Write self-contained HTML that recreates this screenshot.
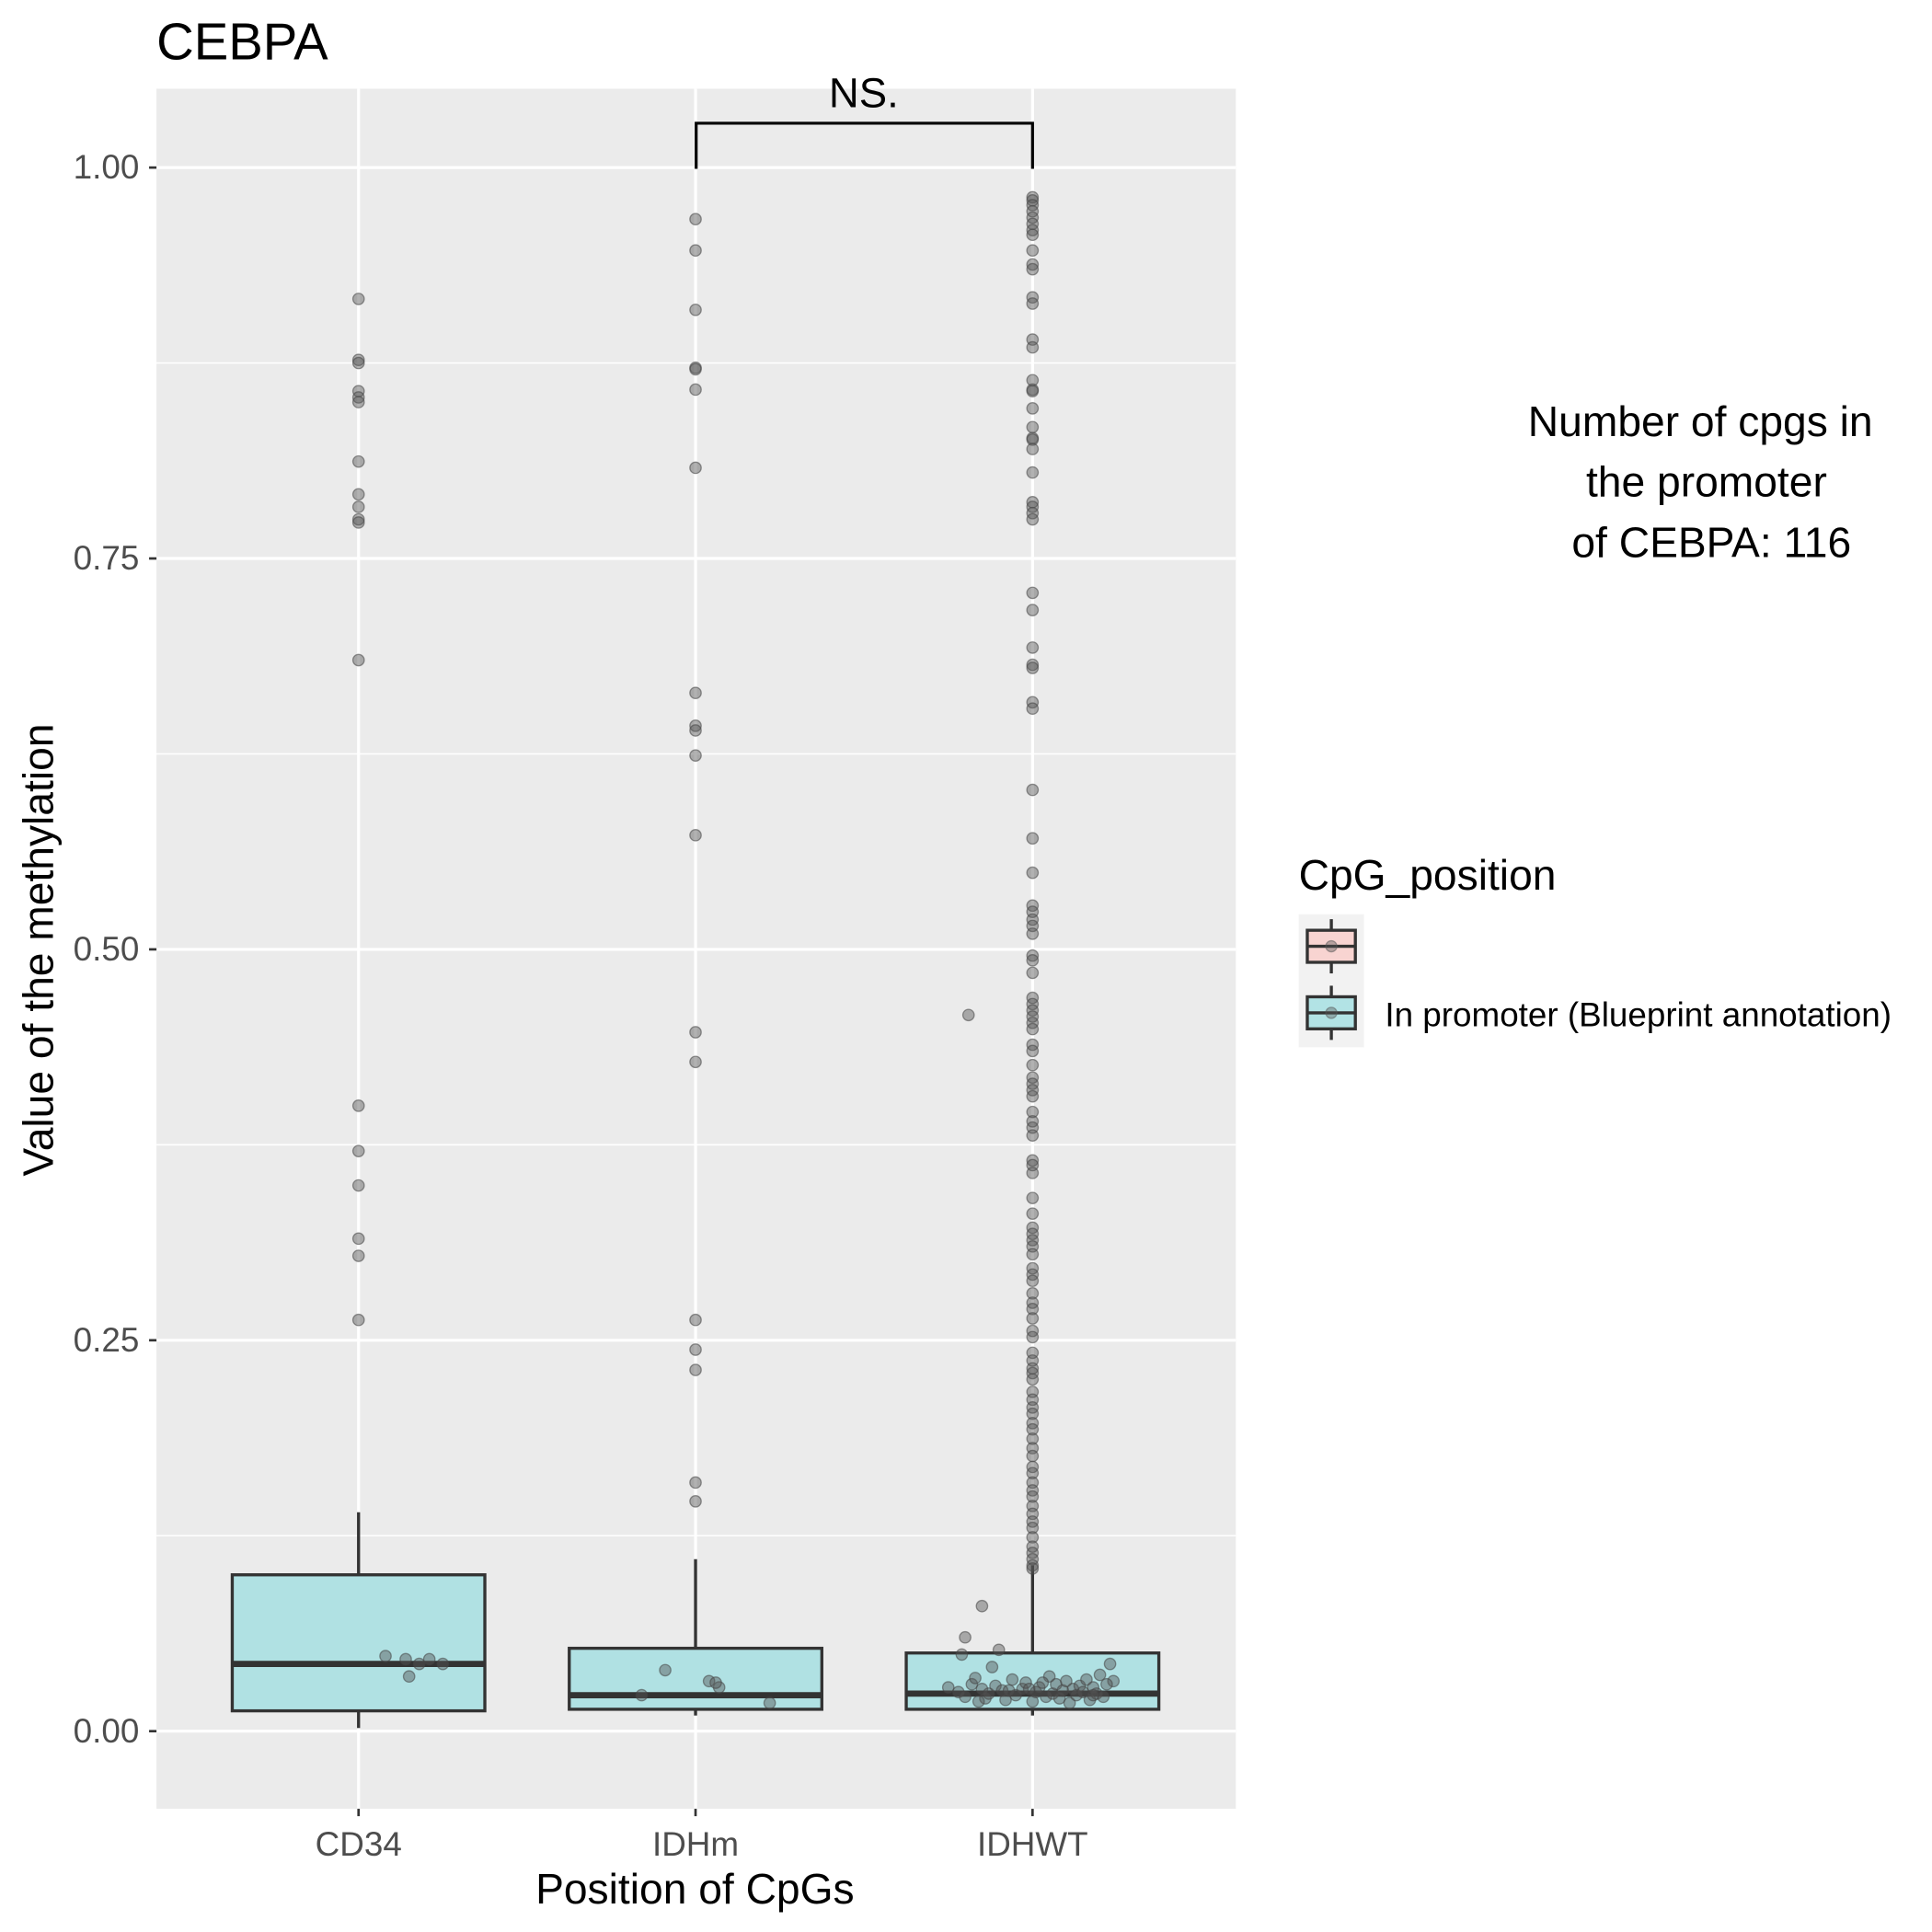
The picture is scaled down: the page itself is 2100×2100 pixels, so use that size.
<!DOCTYPE html>
<html><head><meta charset="utf-8"><style>
html,body{margin:0;padding:0;background:#fff;}
svg{display:block;font-family:"Liberation Sans",Arial,sans-serif;}
</style></head><body>
<svg id="chart" width="2100" height="2100" viewBox="0 0 1568 1568" xmlns="http://www.w3.org/2000/svg">
<rect width="1568" height="1568" fill="#fff"/>
<text x="127" y="48" font-size="42" fill="#000">CEBPA</text>
<rect x="127" y="72" width="876" height="1396" fill="#ebebeb"/>
<g id="grid"></g>
<g id="boxes"></g>
<g id="points"></g>
<g id="axes"></g>
<g>
<path d="M565,137 V100 H838 V137" fill="none" stroke="#000" stroke-width="2.4"/>
<text x="701" y="87" font-size="34" text-anchor="middle">NS.</text>
</g>
<text transform="translate(43,771) rotate(-90)" font-size="34.5" text-anchor="middle">Value of the methylation</text>
<text x="564" y="1545" font-size="34.5" text-anchor="middle">Position of CpGs</text>
<g font-size="34.5" text-anchor="middle">
<text x="1380" y="354">Number of cpgs in</text>
<text x="1385" y="403">the promoter</text>
<text x="1389" y="452">of CEBPA: 116</text>
</g>
<g>
<text x="1054" y="722" font-size="34.5">CpG_position</text>
<rect x="1054" y="742" width="53" height="108" fill="#f2f2f2"/>
<g>
<line x1="1080.5" y1="746" x2="1080.5" y2="790" stroke="#333" stroke-width="2.5"/>
<rect x="1061" y="755" width="39" height="26" fill="#f8d4d1" stroke="#333" stroke-width="2.5"/>
<line x1="1061" y1="768" x2="1100" y2="768" stroke="#333" stroke-width="2.5"/>
<circle cx="1080.5" cy="768" r="4.5" fill="#555" fill-opacity="0.4" stroke="#555" stroke-opacity="0.5"/>
</g>
<g>
<line x1="1080.5" y1="800" x2="1080.5" y2="844" stroke="#333" stroke-width="2.5"/>
<rect x="1061" y="809" width="39" height="26" fill="#b2e3e5" stroke="#333" stroke-width="2.5"/>
<line x1="1061" y1="822" x2="1100" y2="822" stroke="#333" stroke-width="2.5"/>
<circle cx="1080.5" cy="822" r="4.5" fill="#555" fill-opacity="0.4" stroke="#555" stroke-opacity="0.5"/>
<text x="1124" y="833" font-size="27.5">In promoter (Blueprint annotation)</text>
</g>
</g>
</svg>
<script>
const categories = ["CD34","IDHm","IDHWT"];
const q1 = [0.013,0.014,0.014];
const medians = [0.043,0.023,0.024];
const q3 = [0.100,0.053,0.050];
const whiskerLow = [0.002,0.010,0.010];
const whiskerHigh = [0.140,0.110,0.106];
const yTicks = [0,0.25,0.5,0.75,1];
const yTickLabels = ["0.00","0.25","0.50","0.75","1.00"];
const yMinor = [0.125,0.375,0.625,0.875];
const outCD34 = [0.916,0.877,0.875,0.857,0.853,0.850,0.812,0.791,0.783,0.775,0.773,0.685,0.400,0.371,0.349,0.315,0.304,0.263];
const outIDHm = [0.967,0.947,0.909,0.872,0.871,0.858,0.808,0.664,0.643,0.640,0.624,0.573,0.447,0.428,0.263,0.244,0.231,0.159,0.147];
const outIDHWT = [0.981,0.979,0.976,0.972,0.968,0.964,0.960,0.957,0.947,0.938,0.935,0.917,0.913,0.890,0.885,0.864,0.858,0.857,0.846,0.834,0.827,0.826,0.820,0.805,0.786,0.783,0.779,0.775,0.728,0.717,0.693,0.682,0.680,0.658,0.654,0.602,0.571,0.549,0.528,0.524,0.519,0.515,0.510,0.496,0.493,0.485,0.469,0.465,0.461,0.457,0.453,0.449,0.439,0.435,0.426,0.418,0.414,0.410,0.406,0.396,0.390,0.386,0.381,0.365,0.362,0.357,0.341,0.331,0.322,0.318,0.314,0.310,0.305,0.296,0.292,0.288,0.280,0.274,0.270,0.264,0.256,0.252,0.242,0.237,0.232,0.229,0.225,0.217,0.212,0.207,0.203,0.197,0.193,0.187,0.181,0.176,0.169,0.165,0.159,0.154,0.150,0.144,0.139,0.134,0.130,0.124,0.118,0.114,0.110,0.106,0.104];
const jitCD34Vals = [0.048,0.046,0.043,0.046,0.043,0.035];
const jitCD34Off = [0.08,0.14,0.18,0.21,0.25,0.15];
const jitIDHmVals = [0.039,0.023,0.032,0.028,0.018,0.031];
const jitIDHmOff = [-0.09,-0.16,0.04,0.07,0.22,0.06];
const jitIDHWTVals = [0.458,0.080,0.060,0.052,0.049,0.041,0.043,0.032,0.028,0.025,0.022,0.030,0.034,0.027,0.021,0.024,0.029,0.026,0.020,0.033,0.023,0.027,0.031,0.019,0.025,0.028,0.022,0.035,0.024,0.030,0.021,0.026,0.032,0.018,0.027,0.023,0.029,0.025,0.033,0.020,0.028,0.024,0.036,0.022,0.030,0.026,0.019,0.031,0.027,0.023];
const jitIDHWTOff = [-0.19,-0.15,-0.20,-0.10,-0.21,-0.12,0.23,0.24,-0.25,-0.22,-0.20,-0.18,-0.17,-0.15,-0.14,-0.13,-0.11,-0.09,-0.08,-0.06,-0.05,-0.03,-0.02,0.00,0.01,0.02,0.04,0.05,0.06,0.07,0.08,0.09,0.10,0.11,0.12,0.13,0.14,0.15,0.16,0.17,0.18,0.19,0.20,0.21,0.22,-0.07,-0.16,0.03,-0.01,0.18];

const NS='http://www.w3.org/2000/svg';
const pL=127,pR=1003,pT=72,pB=1468;
function yS(v){return 1405-v*1269;}
function xS(i){return 291+i*273.5;}
function mk(tag,attrs,parent){const e=document.createElementNS(NS,tag);for(const k in attrs)e.setAttribute(k,attrs[k]);parent.appendChild(e);return e;}
const grid=document.getElementById('grid'),axes=document.getElementById('axes'),boxes=document.getElementById('boxes'),pts=document.getElementById('points');
yMinor.forEach(v=>{const l=mk('line',{x1:pL,x2:pR,y1:yS(v),y2:yS(v),stroke:'#fff','stroke-width':1.2},grid);

});
yTicks.forEach((v,i)=>{const l=mk('line',{x1:pL,x2:pR,y1:yS(v),y2:yS(v),stroke:'#fff','stroke-width':2.4},grid);


mk('line',{x1:pL-6,x2:pL,y1:yS(v),y2:yS(v),stroke:'#333','stroke-width':2},axes);
const t=mk('text',{x:pL-14,y:yS(v)+9,'font-size':27.5,fill:'#4d4d4d','text-anchor':'end'},axes);t.textContent=yTickLabels[i];

});
categories.forEach((c,i)=>{const x=xS(i);
const l=mk('line',{x1:x,x2:x,y1:pT,y2:pB,stroke:'#fff','stroke-width':2.4},grid);


mk('line',{x1:x,x2:x,y1:pB,y2:pB+6,stroke:'#333','stroke-width':2},axes);
const t=mk('text',{x:x,y:1506,'font-size':27.5,fill:'#4d4d4d','text-anchor':'middle'},axes);t.textContent=c;


const g=mk('g',{},boxes);


mk('line',{x1:x,x2:x,y1:yS(whiskerHigh[i]),y2:yS(q3[i]),stroke:'#333','stroke-width':2.5},g);
mk('line',{x1:x,x2:x,y1:yS(q1[i]),y2:yS(whiskerLow[i]),stroke:'#333','stroke-width':2.5},g);
mk('rect',{x:x-102.5,y:yS(q3[i]),width:205,height:yS(q1[i])-yS(q3[i]),fill:'#b0e1e3',stroke:'#333','stroke-width':2.5},g);
mk('line',{x1:x-102.5,x2:x+102.5,y1:yS(medians[i]),y2:yS(medians[i]),stroke:'#333','stroke-width':5},g);
});
function dot(i,off,v){const c=mk('circle',{cx:xS(i)+off*273.5,cy:yS(v),r:4.6,fill:'#555','fill-opacity':0.45,stroke:'#444','stroke-opacity':0.55,'stroke-width':1},pts);

}
outCD34.forEach(v=>dot(0,0,v));
outIDHm.forEach(v=>dot(1,0,v));
outIDHWT.forEach(v=>dot(2,0,v));
jitCD34Vals.forEach((v,k)=>dot(0,jitCD34Off[k],v));
jitIDHmVals.forEach((v,k)=>dot(1,jitIDHmOff[k],v));
jitIDHWTVals.forEach((v,k)=>dot(2,jitIDHWTOff[k],v));
</script>
</body></html>
